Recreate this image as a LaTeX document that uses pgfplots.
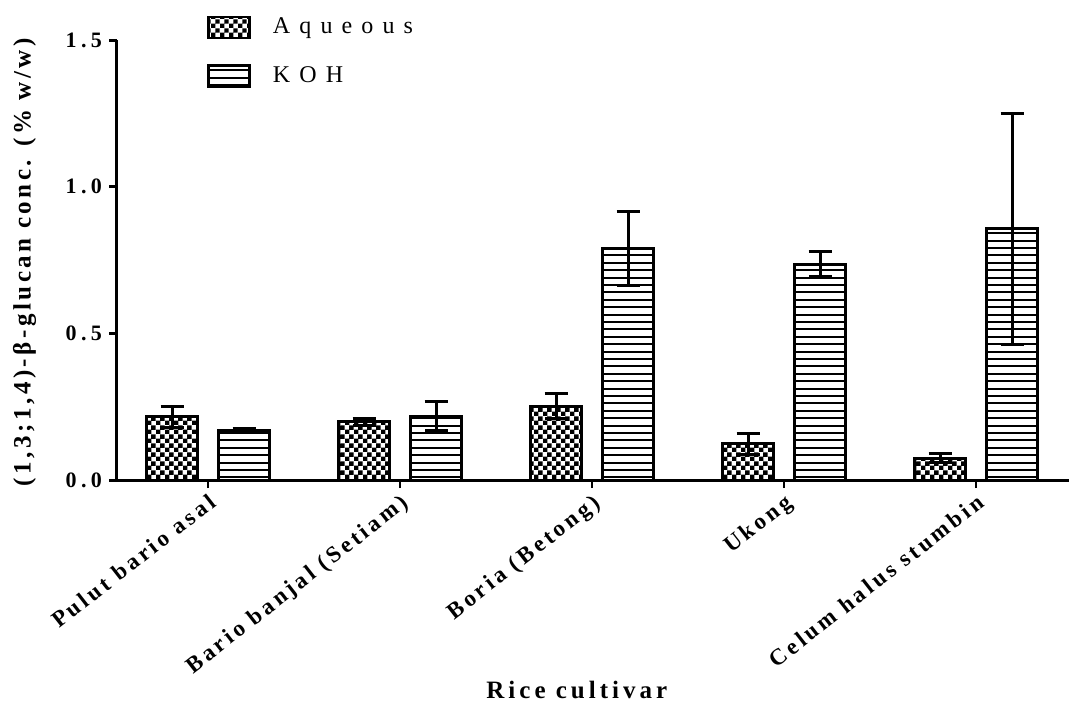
\documentclass[border=0pt]{standalone}
\usepackage{pgfplots}
\pgfplotsset{compat=1.18}
\usepackage{pgfplotstable}
\usepackage{fontspec}
\setmainfont{Liberation Serif}
\newfontfamily\tickfont[LetterSpace=15]{Liberation Serif}
\newfontfamily\ytickfont[LetterSpace=20]{Liberation Serif}
\newfontfamily\legfont[LetterSpace=38]{Liberation Serif}
\newfontfamily\labfont[LetterSpace=14]{Liberation Serif}
\newfontfamily\xlabfont[LetterSpace=16]{Liberation Serif}
\usetikzlibrary{patterns}

% bar fills: checkerboard and widely spaced horizontal lines
\pgfdeclarepatternformonly{check}{\pgfpointorigin}{\pgfqpoint{4.6pt}{4.6pt}}{\pgfqpoint{4.6pt}{4.6pt}}{%
  \pgfpathrectangle{\pgfpointorigin}{\pgfqpoint{2.35pt}{2.35pt}}%
  \pgfpathrectangle{\pgfqpoint{2.3pt}{2.3pt}}{\pgfqpoint{2.35pt}{2.35pt}}%
  \pgfusepath{fill}}
\pgfdeclarepatternformonly{hlines}{\pgfpointorigin}{\pgfqpoint{100pt}{1.2pt}}{\pgfqpoint{100pt}{3.7pt}}{%
  \pgfsetlinewidth{1pt}%
  \pgfpathmoveto{\pgfqpoint{0pt}{0.6pt}}\pgfpathlineto{\pgfqpoint{100pt}{0.6pt}}%
  \pgfusepath{stroke}}

\pgfplotstableread{
x aq    aqe   koh   kohe
0 0.215 0.037 0.170 0.005
1 0.198 0.013 0.218 0.048
2 0.252 0.042 0.788 0.126
3 0.123 0.037 0.736 0.043
4 0.075 0.017 0.856 0.395
}\ricedata

\begin{document}
\begin{tikzpicture}
\begin{axis}[
    scale only axis,
    width=476pt, height=220pt,
    xmin=-0.474, xmax=4.484,
    ymin=0, ymax=1.5,
    axis x line=bottom, axis y line=left,
    axis line style={-, line width=1.5pt},
    ybar=10.5pt, bar width=25.5pt,
    xtick={0,...,4},
    xticklabels={Pulut bario asal, Bario banjal (Setiam), Boria (Betong), Ukong, Celum halus stumbin},
    ytick={0,0.5,1,1.5},
    yticklabels={0.0,0.5,1.0,1.5},
    tick align=outside,
    major tick length=4pt,
    ytick style={line width=1.5pt, black},
    xtick style={line width=1pt, black},
    yticklabel style={font=\ytickfont\bfseries\fontsize{11}{13}\selectfont},
    xticklabel style={font=\tickfont\bfseries\fontsize{11.5}{13}\selectfont, rotate=38, anchor=north east, inner sep=1.5pt},
    ylabel={(1,3;1,4)-β-glucan conc. (\% w/w)},
    ylabel style={font=\labfont\bfseries\fontsize{12.5}{14}\selectfont, at={(axis description cs:-0.097,0.495)}, anchor=center},
    xlabel={Rice cultivar},
    xlabel style={font=\xlabfont\bfseries\fontsize{12.5}{15}\selectfont, at={(axis description cs:0.483,-0.477)}, anchor=center},
    legend style={at={(axis description cs:0.0945,1.06)}, anchor=north west, draw=none, fill=none,
        font=\legfont\fontsize{12}{14}\selectfont, row sep=11pt, inner sep=0pt,
        /tikz/every odd column/.append style={column sep=9pt}},
    legend cell align=left,
    error bars/y dir=both,
    error bars/y explicit,
    error bars/error bar style={line width=1.5pt, black},
    error bars/error mark options={rotate=90, mark size=5.75pt, line width=1.5pt, black},
]
\addplot[draw=black, line width=1.5pt, pattern=check,
    legend image code/.code={\draw[line width=1.3pt, pattern=check] (0pt,-5.25pt) rectangle (20.5pt,5.25pt);}]
    table[x=x, y=aq, y error=aqe] {\ricedata};
\addlegendentry{Aqueous}
\addplot[draw=black, line width=1.5pt, pattern=hlines,
    legend image code/.code={\draw[line width=1.3pt, pattern=hlines] (0pt,-5.25pt) rectangle (20.5pt,5.25pt);}]
    table[x=x, y=koh, y error=kohe] {\ricedata};
\addlegendentry{KOH}
\end{axis}
\pgfresetboundingbox
\path[use as bounding box] ([shift={(-58.5pt,-114pt)}]current axis.south west) rectangle ([shift={(0pt,20pt)}]current axis.north east);
\end{tikzpicture}
\end{document}
